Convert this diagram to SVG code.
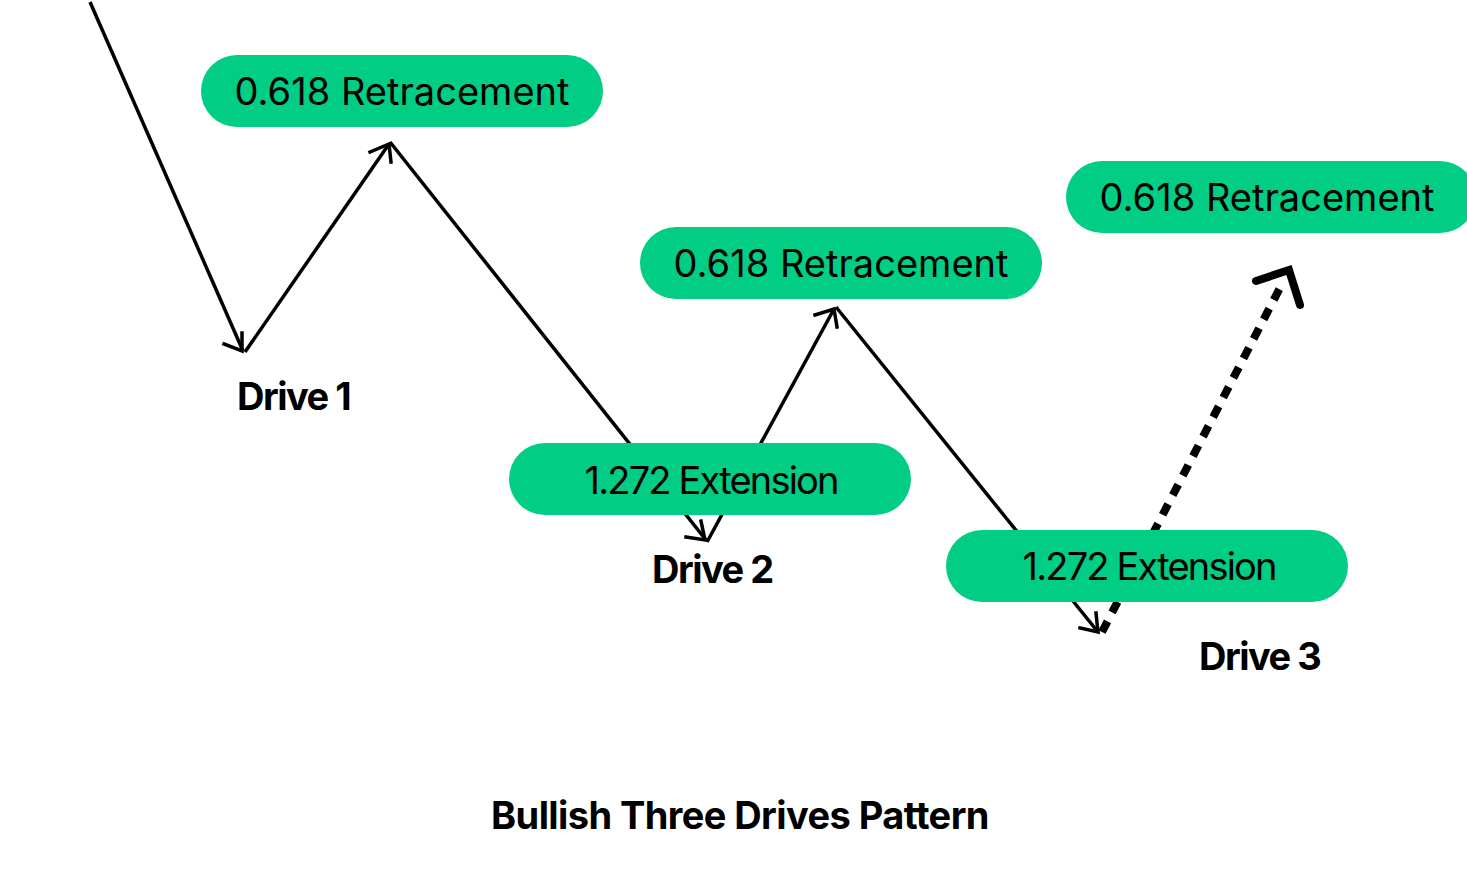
<svg xmlns="http://www.w3.org/2000/svg" width="1467" height="877" viewBox="0 0 1467 877">
<defs>
<style>
.pill{fill:#01CD84}
.lbl{font-family:Inter,"Noto Sans",sans-serif;font-size:38px;fill:#000;text-anchor:middle}
.drv{font-family:Inter,"Noto Sans",sans-serif;font-size:38px;font-weight:700;fill:#000;letter-spacing:-1.5px}
.ln{stroke:#000;stroke-width:3.5;fill:none;stroke-linecap:butt}
.ah{stroke:#000;stroke-width:3.5;fill:none;stroke-linecap:square;stroke-linejoin:miter}
</style>
</defs>
<rect width="1467" height="877" fill="#fff"/>
<g id="connectors">
<line class="ln" x1="90" y1="2" x2="243" y2="351"/>
<polyline class="ah" points="224,344 242,351 242,333"/>
<line class="ln" x1="245" y1="352" x2="389" y2="144"/>
<polyline class="ah" points="370,152 389,144 391,162"/>
<line class="ln" x1="390" y1="142" x2="706" y2="540"/>
<polyline class="ah" points="686,537 705,540 701,521"/>
<line class="ln" x1="707" y1="542" x2="834" y2="309"/>
<polyline class="ah" points="815,315 834,309 837,327"/>
<line class="ln" x1="836" y1="307" x2="1098" y2="632"/>
<polyline class="ah" points="1080,628 1098,632 1096,613"/>
<line x1="1102" y1="632" x2="1283" y2="282" stroke="#000" stroke-width="8" stroke-dasharray="12,10"/>
<polyline points="1256,281 1289,270 1300,305" stroke="#000" stroke-width="8" fill="none" stroke-linecap="round" stroke-linejoin="miter"/>
</g>
<g id="node-retr1"><rect class="pill" x="201" y="55" width="402" height="72" rx="36"/><text class="lbl" x="402" y="105" textLength="335">0.618 Retracement</text></g>
<g id="node-retr2"><rect class="pill" x="640" y="227" width="402" height="72" rx="36"/><text class="lbl" x="841" y="277" textLength="335">0.618 Retracement</text></g>
<g id="node-retr3"><rect class="pill" x="1066" y="161" width="410" height="72" rx="36"/><text class="lbl" x="1267" y="211" textLength="335">0.618 Retracement</text></g>
<g id="node-ext1"><rect class="pill" x="509" y="443" width="402" height="72" rx="36"/><text class="lbl" x="712" y="494" textLength="255">1.272 Extension</text></g>
<g id="node-ext2"><rect class="pill" x="946" y="530" width="402" height="72" rx="36"/><text class="lbl" x="1150" y="580" textLength="255">1.272 Extension</text></g>
<g id="node-drive1"><text class="drv" x="237" y="410">Drive 1</text></g>
<g id="node-drive2"><text class="drv" x="652" y="583">Drive 2</text></g>
<g id="node-drive3"><text class="drv" x="1199" y="670">Drive 3</text></g>
<g id="title"><text class="drv" x="491" y="829" textLength="497">Bullish Three Drives Pattern</text></g>
</svg>
